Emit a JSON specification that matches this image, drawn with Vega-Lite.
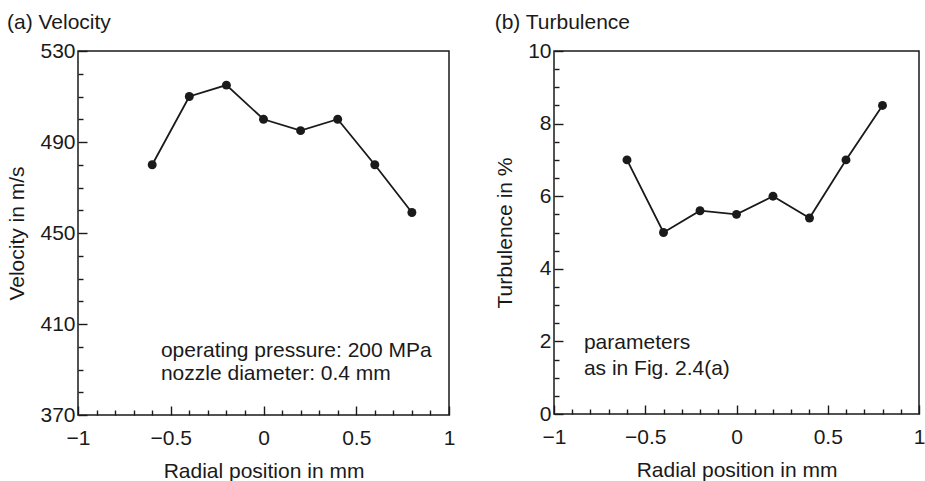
{
  "$schema": "https://vega.github.io/schema/vega-lite/v6.json",
  "background": "white",
  "padding": {"left": 6, "top": 11, "right": 2, "bottom": 2},
  "spacing": 37,
  "config": {
    "view": {"stroke": "#1a1a1a", "strokeWidth": 1.5},
    "font": "Liberation Sans",
    "axis": {
      "grid": false,
      "domain": false,
      "labelFont": "Liberation Sans",
      "labelFontSize": 21,
      "labelColor": "#1a1a1a",
      "titleFont": "Liberation Sans",
      "titleFontSize": 21,
      "titleFontWeight": "normal",
      "titleColor": "#1a1a1a",
      "tickColor": "#1a1a1a",
      "tickWidth": 1.4,
      "labelFlush": false,
      "labelOverlap": false
    },
    "title": {"font": "Liberation Sans", "fontSize": 21, "fontWeight": "normal", "color": "#1a1a1a", "anchor": "start", "frame": "bounds"}
  },
  "hconcat": [
    {
      "title": {"text": "(a) Velocity", "offset": 7},
      "width": 371,
      "height": 364,
      "data": {"values": [
        {"r": -0.6, "v": 480},
        {"r": -0.4, "v": 510},
        {"r": -0.2, "v": 515},
        {"r": 0, "v": 500},
        {"r": 0.2, "v": 495},
        {"r": 0.4, "v": 500},
        {"r": 0.6, "v": 480},
        {"r": 0.8, "v": 459}
      ]},
      "encoding": {
        "x": {"field": "r", "type": "quantitative", "scale": {"domain": [-1, 1], "nice": false, "zero": false},
          "axis": {"title": "Radial position in mm",
            "values": [-1,-0.9,-0.8,-0.7,-0.6,-0.5,-0.4,-0.3,-0.2,-0.1,0,0.1,0.2,0.3,0.4,0.5,0.6,0.7,0.8,0.9,1],
            "labelExpr": "abs(datum.value*2-round(datum.value*2))<0.001 ? format(datum.value,'~g') : ''",
            "tickSize": {"condition": {"test": "abs(datum.value*2-round(datum.value*2))<0.001", "value": -9}, "value": -5},
            "labelPadding": 21, "titlePadding": 8}},
        "y": {"field": "v", "type": "quantitative", "scale": {"domain": [370, 530], "nice": false, "zero": false},
          "axis": {"title": "Velocity in m/s",
            "values": [370,380,390,400,410,420,430,440,450,460,470,480,490,500,510,520,530],
            "labelExpr": "(datum.value-370)%40==0 ? format(datum.value,'~g') : ''",
            "tickSize": {"condition": {"test": "(datum.value-370)%40==0", "value": -9}, "value": -5},
            "labelPadding": 12, "titlePadding": 12}}
      },
      "layer": [
        {"mark": {"type": "line", "color": "#1a1a1a", "strokeWidth": 1.8}},
        {"mark": {"type": "point", "filled": true, "size": 80, "color": "#1a1a1a", "opacity": 1}},
        {
          "data": {"values": [
            {"r": -0.553, "v": 398, "t": "operating pressure: 200 MPa"},
            {"r": -0.553, "v": 388, "t": "nozzle diameter: 0.4 mm"}
          ]},
          "mark": {"type": "text", "align": "left", "baseline": "middle", "fontSize": 21, "color": "#1a1a1a"},
          "encoding": {"text": {"field": "t"}}
        }
      ]
    },
    {
      "title": {"text": "(b) Turbulence", "offset": 7},
      "width": 365,
      "height": 363,
      "data": {"values": [
        {"r": -0.6, "v": 7.0},
        {"r": -0.4, "v": 5.0},
        {"r": -0.2, "v": 5.6},
        {"r": 0, "v": 5.5},
        {"r": 0.2, "v": 6.0},
        {"r": 0.4, "v": 5.4},
        {"r": 0.6, "v": 7.0},
        {"r": 0.8, "v": 8.5}
      ]},
      "encoding": {
        "x": {"field": "r", "type": "quantitative", "scale": {"domain": [-1, 1], "nice": false, "zero": false},
          "axis": {"title": "Radial position in mm",
            "values": [-1,-0.9,-0.8,-0.7,-0.6,-0.5,-0.4,-0.3,-0.2,-0.1,0,0.1,0.2,0.3,0.4,0.5,0.6,0.7,0.8,0.9,1],
            "labelExpr": "abs(datum.value*2-round(datum.value*2))<0.001 ? format(datum.value,'~g') : ''",
            "tickSize": {"condition": {"test": "abs(datum.value*2-round(datum.value*2))<0.001", "value": -9}, "value": -5},
            "labelPadding": 21, "titlePadding": 8}},
        "y": {"field": "v", "type": "quantitative", "scale": {"domain": [0, 10], "nice": false},
          "axis": {"title": "Turbulence in %",
            "values": [0,0.5,1,1.5,2,2.5,3,3.5,4,4.5,5,5.5,6,6.5,7,7.5,8,8.5,9,9.5,10],
            "labelExpr": "datum.value%2==0 ? format(datum.value,'~g') : ''",
            "tickSize": {"condition": {"test": "datum.value%2==0", "value": -9}, "value": -5},
            "labelPadding": 12, "titlePadding": 12}}
      },
      "layer": [
        {"mark": {"type": "line", "color": "#1a1a1a", "strokeWidth": 1.8}},
        {"mark": {"type": "point", "filled": true, "size": 80, "color": "#1a1a1a", "opacity": 1}},
        {
          "data": {"values": [
            {"r": -0.836, "v": 1.96, "t": "parameters"},
            {"r": -0.836, "v": 1.24, "t": "as in Fig. 2.4(a)"}
          ]},
          "mark": {"type": "text", "align": "left", "baseline": "middle", "fontSize": 21, "color": "#1a1a1a"},
          "encoding": {"text": {"field": "t"}}
        }
      ]
    }
  ]
}
